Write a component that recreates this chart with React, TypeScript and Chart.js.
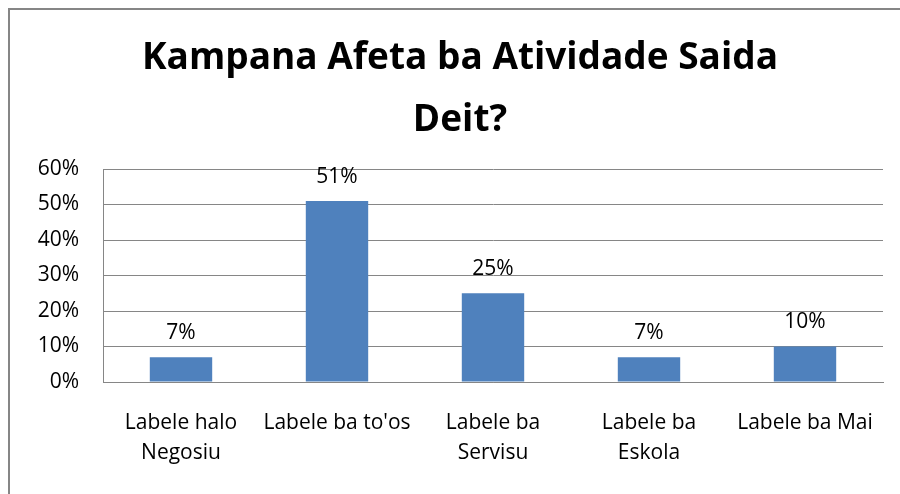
import React, { useEffect, useRef } from "react";
import { Chart, registerables } from "chart.js";

Chart.register(...registerables);

const categories: string[][] = [
  ["Labele halo", "Negosiu"],
  ["Labele ba to'os"],
  ["Labele ba", "Servisu"],
  ["Labele ba", "Eskola"],
  ["Labele ba Mai"],
];
const values: number[] = [7, 51, 25, 7, 10];
const yTicks: number[] = [0, 10, 20, 30, 40, 50, 60];
const titleLines: string[] = ["Kampana Afeta ba Atividade Saida", "Deit?"];

const FONT = "'Open Sans', 'Noto Sans', sans-serif";

const dataLabels = {
  id: "dataLabels",
  afterDatasetsDraw(chart: any) {
    const ctx = chart.ctx;
    const meta = chart.getDatasetMeta(0);
    ctx.save();
    ctx.font = `21px ${FONT}`;
    ctx.fillStyle = "#000";
    ctx.textAlign = "center";
    ctx.textBaseline = "middle";
    meta.data.forEach((bar: any, i: number) => {
      ctx.fillText(`${values[i]}%`, bar.x, bar.y - 24);
    });
    ctx.restore();
  },
};

const centeredTitle = {
  id: "centeredTitle",
  afterDraw(chart: any) {
    const ctx = chart.ctx;
    ctx.save();
    ctx.font = `bold 37px ${FONT}`;
    ctx.fillStyle = "#000";
    ctx.textAlign = "center";
    ctx.textBaseline = "middle";
    titleLines.forEach((line, i) => {
      ctx.fillText(line, chart.width / 2, 48 + i * 62);
    });
    ctx.restore();
  },
};

export default function App() {
  const ref = useRef<HTMLCanvasElement>(null);
  useEffect(() => {
    document.documentElement.style.overflow = "hidden";
    document.body.style.overflow = "hidden";
    if (!ref.current) return;
    const chart = new Chart(ref.current, {
      type: "bar",
      data: {
        labels: categories,
        datasets: [
          {
            data: values,
            backgroundColor: "#4F81BD",
            barPercentage: 0.4,
            categoryPercentage: 1,
          },
        ],
      },
      options: {
        animation: false,
        responsive: false,
        devicePixelRatio: 1,
        layout: { padding: { left: 0, right: 27, top: 159, bottom: 0 } },
        plugins: {
          legend: { display: false },
          tooltip: { enabled: false },
          title: { display: false },
        },
        scales: {
          x: {
            grid: { display: false, drawTicks: false },
            border: { display: true, color: "#868686", width: 1 },
            ticks: {
              color: "#000",
              font: { family: FONT, size: 21, lineHeight: 30 / 21 },
              padding: 26,
              autoSkip: false,
              maxRotation: 0,
              minRotation: 0,
            },
            afterFit(scale: any) {
              scale.height = 112;
            },
          },
          y: {
            min: 0,
            max: 60,
            afterBuildTicks(scale: any) {
              scale.ticks = yTicks.map((v) => ({ value: v }));
            },
            grid: { color: "#868686", lineWidth: 1, drawTicks: false },
            border: { display: true, color: "#868686", width: 1 },
            ticks: {
              color: "#000",
              font: { family: FONT, size: 21 },
              padding: 24,
              callback: (v: any) => `${v}%`,
            },
            afterFit(scale: any) {
              scale.width = 93;
            },
          },
        },
      },
      plugins: [dataLabels, centeredTitle],
    });
    return () => chart.destroy();
  }, []);
  return (
    <div
      style={{
        position: "fixed",
        left: 8,
        top: 8,
        width: 902,
        height: 486,
        boxSizing: "border-box",
        borderTop: "2px solid #868686",
        borderLeft: "2px solid #868686",
        overflow: "hidden",
        background: "#fff",
      }}
    >
      <canvas ref={ref} width={900} height={484} style={{ display: "block" }} />
    </div>
  );
}
